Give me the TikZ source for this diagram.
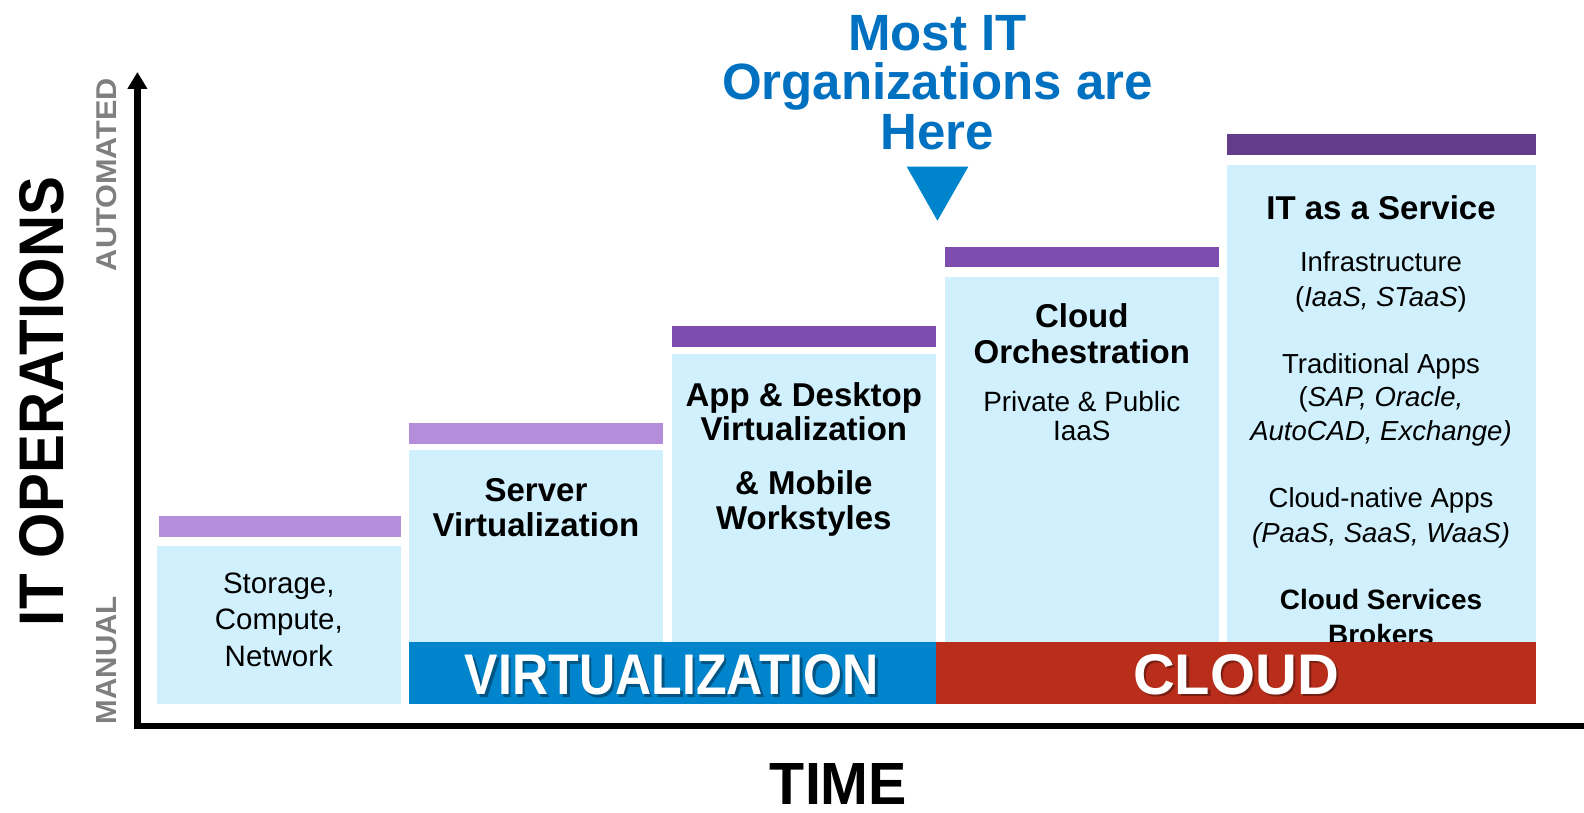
\documentclass[tikz,border=0pt]{standalone}
\usepackage{fontspec}
\usepackage{graphicx}
\setmainfont{Liberation Sans}
\usetikzlibrary{arrows.meta}
\definecolor{lblue}{HTML}{CFF0FC}
\definecolor{barA}{HTML}{B48EDB}
\definecolor{barB}{HTML}{7F4DAD}
\definecolor{barC}{HTML}{643D8A}
\definecolor{virtblue}{HTML}{0084CB}
\definecolor{cloudred}{HTML}{B92E1B}
\definecolor{titleblue}{HTML}{0070C0}
\definecolor{axisgray}{HTML}{7F7F7F}
\newcommand\fsz[1]{\fontsize{#1}{#1}\selectfont}
\begin{document}
\begin{tikzpicture}[x=1pt,y=-1pt,
  txt/.style={anchor=base, inner sep=0pt, outer sep=0pt, text=black},
  big/.style={inner sep=0pt, outer sep=0pt},
  shadowtxt/.style={inner sep=0pt, outer sep=0pt, text=black, opacity=0.35},
  axisline/.style={line width=6.5pt, black}]
\useasboundingbox (0,0) rectangle (1584,813);

% axes
\coordinate (origin) at (137.4,726);
\coordinate (ytop) at (137.4,72);
\coordinate (xleft) at (134.2,726);
\coordinate (xend) at (1584,726);
\draw[axisline] (xleft) -- (xend);
\draw[axisline, -{Triangle[width=19pt,length=17pt]}] (origin) -- (ytop);

% axis labels
\node[big, rotate=90] (itops) at (42,401.5) {\resizebox{449pt}{44pt}{\bfseries IT OPERATIONS}};
\node[big, rotate=90, text=axisgray] (auto) at (107,174.5) {\resizebox{193pt}{20pt}{\bfseries AUTOMATED}};
\node[big, rotate=90, text=axisgray] (manual) at (107,660) {\resizebox{128pt}{20pt}{\bfseries MANUAL}};
\node[big] (time) at (838.5,784) {\resizebox{137pt}{41pt}{\bfseries TIME}};

% step boxes
\fill[lblue] (156.6,545.5) rectangle (401,704);
\fill[barA] (158.6,516) rectangle (401,536.5);
\fill[lblue] (409,449.5) rectangle (663,641.5);
\fill[barA] (409,423) rectangle (663,443.5);
\fill[lblue] (672,353.5) rectangle (935.5,641.5);
\fill[barB] (672,326) rectangle (935.5,346.5);
\fill[lblue] (944.5,277) rectangle (1219,641.5);
\fill[barB] (944.5,246.7) rectangle (1219,267.3);
\fill[lblue] (1227,164.7) rectangle (1535.5,641.5);
\fill[barC] (1227,134) rectangle (1535.5,155.5);

% box 1
\node[txt] (s1) at (278.8,593) {\fsz{29.5}Storage,};
\node[txt] (s2) at (278.8,629) {\fsz{29.5}Compute,};
\node[txt] (s3) at (278.8,666.5) {\fsz{29.5}Network};

% box 2
\node[txt] (v1) at (536,501) {\fsz{33}\bfseries Server};
\node[txt] (v2) at (536,536) {\fsz{33}\bfseries Virtualization};

% box 3
\node[txt] (a1) at (803.8,406) {\fsz{33}\bfseries App \& Desktop};
\node[txt] (a2) at (803.8,440) {\fsz{33}\bfseries Virtualization};
\node[txt] (a3) at (803.8,494) {\fsz{33}\bfseries \& Mobile};
\node[txt] (a4) at (803.8,529) {\fsz{33}\bfseries Workstyles};

% box 4
\node[txt] (c1) at (1081.8,327) {\fsz{33}\bfseries Cloud};
\node[txt] (c2) at (1081.8,363.5) {\fsz{33}\bfseries Orchestration};
\node[txt] (c3) at (1081.8,411) {\fsz{27.9}Private \& Public};
\node[txt] (c4) at (1081.8,440) {\fsz{27.9}IaaS};

% box 5
\node[txt] (i1) at (1381,219) {\fsz{33}\bfseries IT as a Service};
\node[txt] (i2) at (1381,271) {\fsz{27.5}Infrastructure};
\node[txt] (i3) at (1381,306) {\fsz{27.5}(\textit{IaaS, STaaS})};
\node[txt] (i4) at (1381,373) {\fsz{27.5}Traditional Apps};
\node[txt] (i5) at (1381,406) {\fsz{27.5}(\textit{SAP, Oracle,}};
\node[txt] (i6) at (1381,440) {\fsz{27.5}\textit{AutoCAD, Exchange)}};
\node[txt] (i7) at (1381,507.5) {\fsz{27.5}Cloud-native Apps};
\node[txt] (i8) at (1381,542) {\fsz{27.5}\textit{(PaaS, SaaS, WaaS)}};
\node[txt] (i9) at (1381,609) {\fsz{28}\bfseries Cloud Services};
\node[txt] (i10) at (1381,644) {\fsz{28}\bfseries Brokers};

% bands
\fill[virtblue] (409,641.5) rectangle (935.5,704);
\fill[cloudred] (935.5,641.5) rectangle (1535.5,704);
\node[shadowtxt] at (674.5,677.5) {\resizebox{414pt}{40pt}{\bfseries VIRTUALIZATION}};
\node[big, text=white] (virt) at (672,675) {\resizebox{414pt}{40pt}{\bfseries VIRTUALIZATION}};
\node[shadowtxt] at (1238.5,677) {\resizebox{206pt}{40pt}{\bfseries CLOUD}};
\node[big, text=white] (cloud) at (1236,674.5) {\resizebox{206pt}{40pt}{\bfseries CLOUD}};

% title and marker
\node[txt, text=titleblue] (t1) at (937.5,51) {\fsz{51}\bfseries Most IT};
\node[txt, text=titleblue] (t2) at (937.5,100) {\fsz{51}\bfseries Organizations are};
\node[txt, text=titleblue] (t3) at (937.5,150) {\fsz{51}\bfseries Here};
\fill[virtblue] (906.7,166.7) -- (968.3,166.7) -- (937.4,220.7) -- cycle;
\end{tikzpicture}
\end{document}
